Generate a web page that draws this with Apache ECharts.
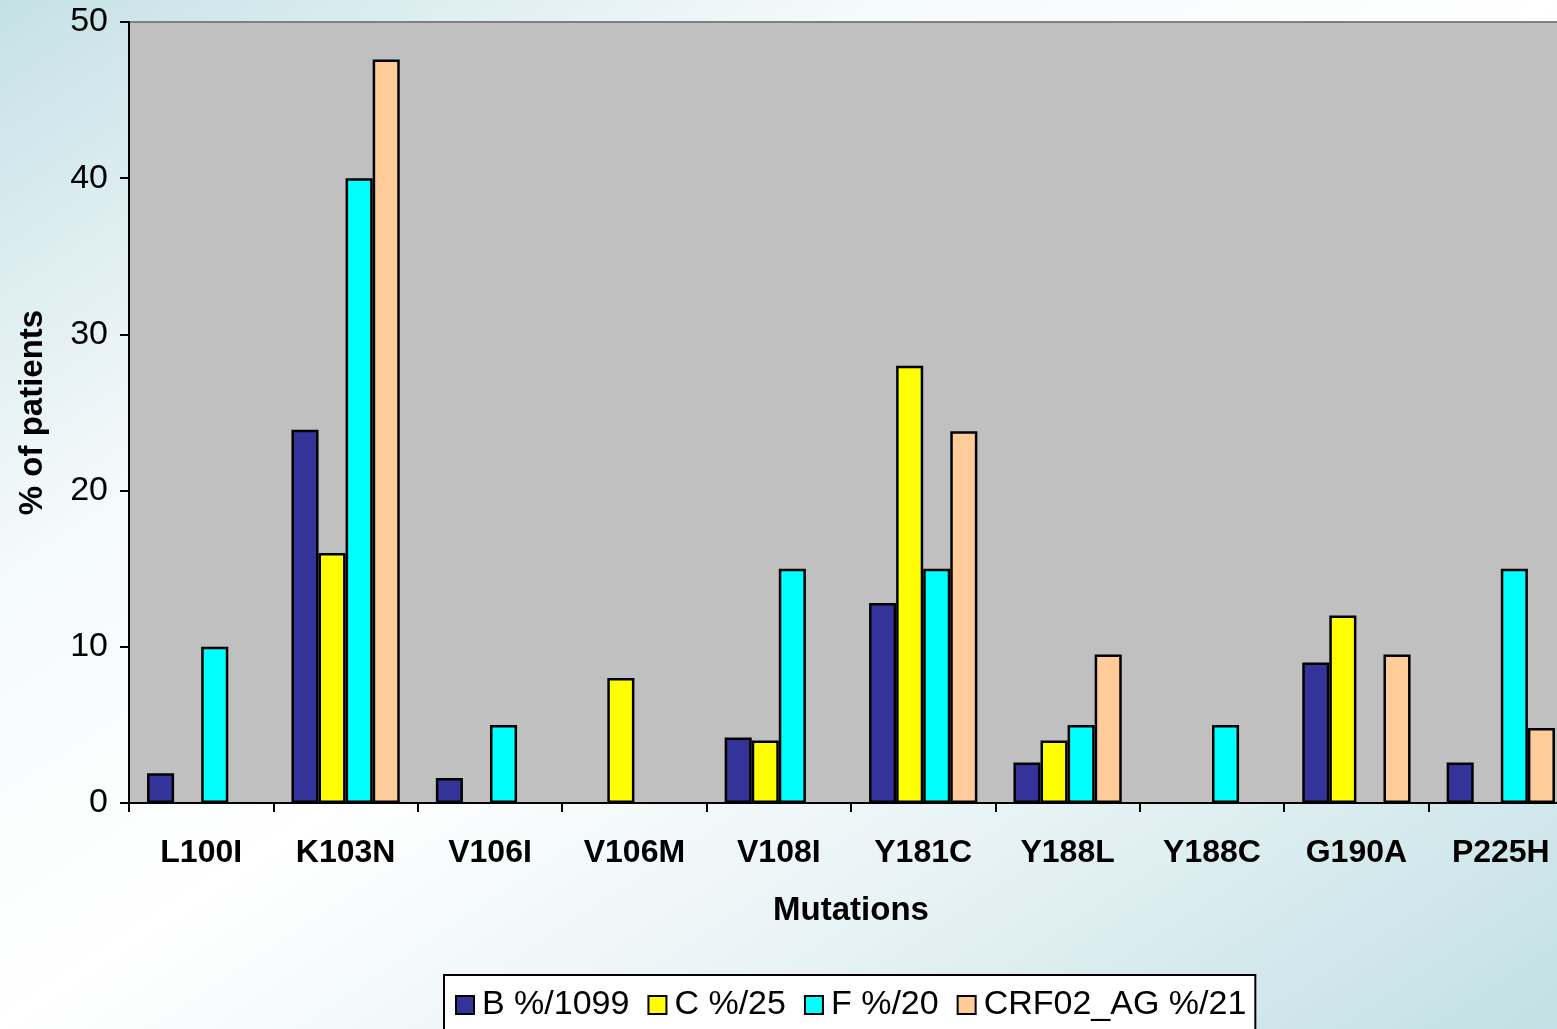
<!DOCTYPE html>
<html>
<head>
<meta charset="utf-8">
<title>NNRTI resistance mutations by subtype</title>
<script src="https://cdn.jsdelivr.net/npm/echarts@6/dist/echarts.min.js"></script>
<style>
  html, body { margin: 0; padding: 0; overflow: hidden; }
  /* canvas runs a little past the right edge of the page, so the last category is clipped */
  #chart { width: 1573px; height: 1029px; }
</style>
</head>
<body>
<div id="chart"></div>
<script>
// Mutations on the category axis
const mutations = ['L100I', 'K103N', 'V106I', 'V106M', 'V108I', 'Y181C', 'Y188L', 'Y188C', 'G190A', 'P225H'];

// Percentage of patients carrying each mutation, per subtype (null = not observed)
const subtypeB   = [1.9, 23.9, 1.6, null, 4.2, 12.8, 2.6, null, 9.0, 2.6];
const subtypeC   = [null, 16, null, 8, 4, 28, 4, null, 12, null];
const subtypeF   = [10, 40, 5, null, 15, 15, 5, 5, null, 15];
const crf02AG    = [null, 47.6, null, null, null, 23.8, 9.5, null, 9.5, 4.8];

const seriesNames = ['B %/1099', 'C %/25', 'F %/20', 'CRF02_AG %/21'];
const seriesColors = ['#333399', '#FFFF00', '#00FFFF', '#FFCC99'];
const seriesData = [subtypeB, subtypeC, subtypeF, crf02AG];

const yTicks = { min: 0, max: 50, interval: 10 };

const W = 1557, H = 1029;
// Diagonal page gradient: contours run parallel to the top-right / bottom-left diagonal
const k = 2 * W * H / (W * W + H * H);
const pageBg = new echarts.graphic.LinearGradient(0, 0, k * H, k * W, [
  { offset: 0,    color: '#c5e1e6' },
  { offset: 0.28, color: '#f5fafb' },
  { offset: 0.5,  color: '#ffffff' },
  { offset: 0.72, color: '#e8f3f5' },
  { offset: 1,    color: '#c2e0e5' }
], true);

const font = 'Arial, "Liberation Sans", Helvetica, sans-serif';

const chart = echarts.init(document.getElementById('chart'), null, { renderer: 'canvas' });

chart.setOption({
  backgroundColor: pageBg,
  animation: false,
  textStyle: { fontFamily: font, color: '#000' },
  grid: {
    left: 129, top: 22, right: 0, bottom: 226,
    show: true,
    backgroundColor: '#C0C0C0',
    borderColor: '#808080',
    borderWidth: 2
  },
  legend: {
    left: 444, top: 975,
    padding: [13, 9, 30, 11],
    backgroundColor: '#ffffff',
    borderColor: '#000000',
    borderWidth: 2,
    itemWidth: 18, itemHeight: 18,
    itemGap: 18,
    icon: 'rect',
    itemStyle: { borderColor: '#000', borderWidth: 2 },
    textStyle: { fontFamily: font, fontSize: 34, color: '#000', padding: [0, 0, 0, 3] },
    data: seriesNames
  },
  xAxis: {
    type: 'category',
    data: mutations,
    name: 'Mutations',
    nameLocation: 'middle',
    nameGap: 91,
    nameTextStyle: { fontFamily: font, fontSize: 33, fontWeight: 'bold', color: '#000' },
    axisLine: { lineStyle: { color: '#000', width: 2 } },
    axisTick: { show: true, length: 9, lineStyle: { color: '#000', width: 2 } },
    axisLabel: { margin: 34, fontFamily: font, fontSize: 32, fontWeight: 'bold', color: '#000' },
    splitLine: { show: false }
  },
  yAxis: {
    type: 'value',
    min: yTicks.min, max: yTicks.max, interval: yTicks.interval,
    name: '% of patients',
    nameLocation: 'middle',
    nameRotate: 90,
    nameGap: 80,
    nameTextStyle: { fontFamily: font, fontSize: 33, fontWeight: 'bold', color: '#000' },
    axisLine: { show: true, lineStyle: { color: '#000', width: 2 } },
    axisTick: { show: true, length: 9, lineStyle: { color: '#000', width: 2 } },
    axisLabel: { margin: 21, fontFamily: font, fontSize: 34, color: '#000' },
    splitLine: { show: false }
  },
  series: seriesNames.map((name, i) => ({
    name: name,
    type: 'bar',
    data: seriesData[i],
    barGap: '0%',
    barCategoryGap: '25%',
    itemStyle: { color: seriesColors[i], borderColor: '#000', borderWidth: 2.5 }
  }))
});
</script>
</body>
</html>
